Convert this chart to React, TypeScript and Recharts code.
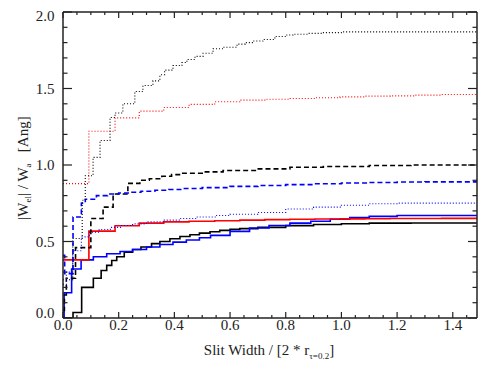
import React from "react";
import { LineChart, Line, XAxis, YAxis } from "recharts";

// ---- data: [slit width, |W_el|/W_a] step points ----
const blackSolid: [number, number][] = [
  [0, 0], [0.036, 0.036], [0.067, 0.2], [0.109, 0.26], [0.137, 0.31], [0.157, 0.344],
  [0.175, 0.376], [0.193, 0.4], [0.22, 0.43], [0.25, 0.448], [0.28, 0.464], [0.318, 0.486],
  [0.348, 0.5], [0.384, 0.518], [0.42, 0.533], [0.456, 0.544], [0.49, 0.555], [0.528, 0.564],
  [0.563, 0.573], [0.6, 0.579], [0.635, 0.584], [0.7, 0.592], [0.8, 0.604], [0.9, 0.611],
  [1.0, 0.616], [1.1, 0.62], [1.25, 0.621], [1.487, 0.621],
];
const blueSolid: [number, number][] = [
  [0, 0], [0.004, 0.165], [0.031, 0.32], [0.065, 0.38], [0.109, 0.4], [0.157, 0.42],
  [0.205, 0.435], [0.25, 0.448], [0.3, 0.464], [0.348, 0.48], [0.395, 0.496], [0.443, 0.51],
  [0.49, 0.525], [0.53, 0.54], [0.6, 0.566], [0.67, 0.588], [0.74, 0.605], [0.815, 0.62],
  [0.89, 0.632], [0.96, 0.645], [1.03, 0.656], [1.1, 0.664], [1.2, 0.67], [1.487, 0.671],
];
const redSolid: [number, number][] = [
  [0, 0.38], [0.093, 0.568], [0.187, 0.603], [0.274, 0.62], [0.362, 0.628], [0.453, 0.632],
  [0.545, 0.636], [0.635, 0.64], [0.725, 0.643], [0.815, 0.645], [0.905, 0.647], [0.995, 0.648],
  [1.085, 0.649], [1.175, 0.65], [1.265, 0.65], [1.36, 0.651], [1.487, 0.651],
];
const blackDashed: [number, number][] = [
  [0, 0.05], [0.005, 0.15], [0.012, 0.26], [0.045, 0.46], [0.1, 0.65], [0.144, 0.725],
  [0.18, 0.81], [0.233, 0.88], [0.276, 0.9], [0.31, 0.91], [0.355, 0.926], [0.39, 0.937],
  [0.43, 0.946], [0.5, 0.955], [0.575, 0.964], [0.695, 0.975], [0.815, 0.985], [0.935, 0.99],
  [1.1, 0.997], [1.25, 1.0], [1.487, 1.0],
];
const blueDashed: [number, number][] = [
  [0, 0.41], [0.006, 0.29], [0.036, 0.66], [0.066, 0.75], [0.08, 0.776], [0.12, 0.8],
  [0.16, 0.81], [0.2, 0.817], [0.24, 0.822], [0.28, 0.828], [0.33, 0.835], [0.38, 0.84],
  [0.43, 0.846], [0.5, 0.852], [0.6, 0.86], [0.7, 0.866], [0.8, 0.872], [0.9, 0.877],
  [1.0, 0.882], [1.1, 0.886], [1.2, 0.889], [1.3, 0.89], [1.487, 0.89],
];
const blueDotted: [number, number][] = [
  [0, 0.22], [0.012, 0.3], [0.035, 0.44], [0.066, 0.53], [0.095, 0.56], [0.13, 0.578],
  [0.17, 0.592], [0.21, 0.605], [0.25, 0.615], [0.3, 0.628], [0.36, 0.64], [0.42, 0.65],
  [0.48, 0.66], [0.55, 0.67], [0.6, 0.678], [0.7, 0.69], [0.8, 0.712], [0.9, 0.725],
  [1.0, 0.737], [1.1, 0.747], [1.2, 0.751], [1.487, 0.752],
];
const redDotted: [number, number][] = [
  [0, 0.878], [0.093, 1.221], [0.187, 1.308], [0.274, 1.352], [0.362, 1.376], [0.453, 1.396],
  [0.545, 1.413], [0.635, 1.424], [0.725, 1.43], [0.815, 1.435], [0.905, 1.44], [0.995, 1.445],
  [1.085, 1.45], [1.175, 1.452], [1.265, 1.457], [1.36, 1.461], [1.487, 1.461],
];
const blackDotted: [number, number][] = [
  [0, 0.25], [0.035, 0.52], [0.069, 0.77], [0.08, 0.93], [0.108, 1.05], [0.133, 1.16],
  [0.169, 1.31], [0.187, 1.34], [0.215, 1.4], [0.258, 1.48], [0.287, 1.52], [0.323, 1.55],
  [0.348, 1.59], [0.365, 1.62], [0.395, 1.65], [0.427, 1.67], [0.445, 1.69], [0.474, 1.71],
  [0.503, 1.73], [0.539, 1.76], [0.575, 1.77], [0.625, 1.79], [0.654, 1.8], [0.682, 1.81],
  [0.718, 1.82], [0.761, 1.84], [0.804, 1.85], [0.826, 1.855], [0.88, 1.86], [0.933, 1.865],
  [1.0, 1.87], [1.487, 1.87],
];

// ---- axes ----
const X_MAX = 1.487;
const xTicks = [0, 0.05, 0.1, 0.15, 0.2, 0.25, 0.3, 0.35, 0.4, 0.45, 0.5, 0.55, 0.6, 0.65, 0.7,
  0.75, 0.8, 0.85, 0.9, 0.95, 1.0, 1.05, 1.1, 1.15, 1.2, 1.25, 1.3, 1.35, 1.4, 1.45];
const xMajorLabels = ["0.0", "0.2", "0.4", "0.6", "0.8", "1.0", "1.2", "1.4"];
const yTicks = [0, 0.1, 0.2, 0.3, 0.4, 0.5, 0.6, 0.7, 0.8, 0.9, 1.0, 1.1, 1.2, 1.3, 1.4, 1.5,
  1.6, 1.7, 1.8, 1.9, 2.0];
const yMajorLabels = ["0.0", "0.5", "1.0", "1.5", "2.0"];

const toRows = (pts: [number, number][]) => pts.map(([x, y]) => ({ x, y }));

const AX = "#222";
const FONT = "Liberation Serif, Times New Roman, DejaVu Serif, serif";
const TXT: React.CSSProperties = { fontFamily: FONT, fontSize: 15, fill: AX, whiteSpace: "pre" };

const isMajor = (v: number, step: number) => Math.abs(v / step - Math.round(v / step)) < 1e-6;

const BottomTick = (p: any) => {
  const v = p.payload.value;
  const major = isMajor(v, 0.2);
  const lab = v.toFixed(1);
  return (
    <g>
      <line x1={p.x} x2={p.x} y1={p.y} y2={p.y - (major ? 6 : 3)} stroke={AX} strokeWidth={1.2} />
      {major && xMajorLabels.includes(lab) && (
        <text x={p.x} y={p.y + 12} textAnchor="middle" style={TXT}>
          {lab}
        </text>
      )}
    </g>
  );
};
const TopTick = (p: any) => {
  const major = isMajor(p.payload.value, 0.2);
  return <line x1={p.x} x2={p.x} y1={p.y} y2={p.y + (major ? 6 : 3)} stroke={AX} strokeWidth={1.2} />;
};
const LeftTick = (p: any) => {
  const v = p.payload.value;
  const major = isMajor(v, 0.5);
  const lab = v.toFixed(1);
  const dy = v === 0 ? -0.5 : v >= 2 ? 8.5 : 5;
  return (
    <g>
      <line x1={p.x} x2={p.x + (major ? 9 : 4.5)} y1={p.y} y2={p.y} stroke={AX} strokeWidth={1.2} />
      {major && yMajorLabels.includes(lab) && (
        <text x={p.x - 8.5} y={p.y + dy} textAnchor="end" style={TXT}>
          {lab}
        </text>
      )}
    </g>
  );
};
const RightTick = (p: any) => {
  const major = isMajor(p.payload.value, 0.5);
  return <line x1={p.x} x2={p.x - (major ? 9 : 4.5)} y1={p.y} y2={p.y} stroke={AX} strokeWidth={1.2} />;
};

const XLabel = () => (
  <text x={269} y={355} textAnchor="middle" style={TXT}>
    Slit Width / [2 * r
    <tspan style={{ fontSize: 9 }} dy={4}>τ=0.2</tspan>
    <tspan dy={-4}>]</tspan>
  </text>
);
const YLabel = () => (
  <text transform="translate(28,168) rotate(-90)" textAnchor="middle" style={TXT}>
    |W
    <tspan style={{ fontSize: 9 }} dy={3}>el</tspan>
    <tspan dy={-3}>| / W</tspan>
    <tspan style={{ fontSize: 9 }} dy={3}>a</tspan>
    <tspan dy={-3}>{"   [Ang]"}</tspan>
  </text>
);

const series = [
  { name: "blackSolid", pts: blackSolid, color: "#000000", w: 1.6, dash: undefined },
  { name: "blueSolid", pts: blueSolid, color: "#0000ff", w: 1.6, dash: undefined },
  { name: "redSolid", pts: redSolid, color: "#ff0000", w: 1.6, dash: undefined },
  { name: "blackDashed", pts: blackDashed, color: "#000000", w: 1.6, dash: "5 3" },
  { name: "blueDashed", pts: blueDashed, color: "#0000ff", w: 1.6, dash: "5 3" },
  { name: "blueDotted", pts: blueDotted, color: "#0000ff", w: 1.1, dash: "1 2" },
  { name: "redDotted", pts: redDotted, color: "#ff0000", w: 1.1, dash: "1 2" },
  { name: "blackDotted", pts: blackDotted, color: "#000000", w: 1.1, dash: "1 2" },
];

export default function App() {
  return (
    <div style={{ position: "absolute", left: 0, top: 0, width: 485, height: 368, background: "#fff" }}>
      <LineChart width={485} height={368} margin={{ top: 11, right: 7, bottom: 0, left: 0 }}>
        <XAxis
          xAxisId={0}
          dataKey="x"
          type="number"
          domain={[0, X_MAX]}
          allowDataOverflow
          ticks={xTicks}
          interval={0}
          height={50}
          tickSize={0}
          tickMargin={0}
          tickLine={false}
          tick={<BottomTick />}
          axisLine={{ stroke: AX, strokeWidth: 1.5 }}
          label={<XLabel />}
        />
        <XAxis
          xAxisId="top"
          orientation="top"
          dataKey="x"
          type="number"
          domain={[0, X_MAX]}
          allowDataOverflow
          ticks={xTicks}
          interval={0}
          height={1}
          tickSize={0}
          tickMargin={0}
          tickLine={false}
          tick={<TopTick />}
          axisLine={{ stroke: AX, strokeWidth: 1.5 }}
        />
        <YAxis
          yAxisId={0}
          type="number"
          domain={[0, 2]}
          allowDataOverflow
          ticks={yTicks}
          interval={0}
          width={63}
          tickSize={0}
          tickMargin={0}
          tickLine={false}
          tick={<LeftTick />}
          axisLine={{ stroke: AX, strokeWidth: 1.5 }}
          label={<YLabel />}
        />
        <YAxis
          yAxisId="right"
          orientation="right"
          type="number"
          domain={[0, 2]}
          allowDataOverflow
          ticks={yTicks}
          interval={0}
          width={1}
          tickSize={0}
          tickMargin={0}
          tickLine={false}
          tick={<RightTick />}
          axisLine={{ stroke: AX, strokeWidth: 1.5 }}
        />
        {/* invisible carrier so the mirrored frame axes are laid out */}
        <Line
          xAxisId="top"
          yAxisId="right"
          data={toRows(blackSolid)}
          dataKey="y"
          type="stepAfter"
          stroke="none"
          dot={false}
          activeDot={false}
          legendType="none"
          isAnimationActive={false}
        />
        {series.map((s) => (
          <Line
            key={s.name}
            data={toRows(s.pts)}
            dataKey="y"
            type="stepAfter"
            stroke={s.color}
            strokeWidth={s.w}
            strokeDasharray={s.dash}
            dot={false}
            activeDot={false}
            isAnimationActive={false}
          />
        ))}
      </LineChart>
    </div>
  );
}
